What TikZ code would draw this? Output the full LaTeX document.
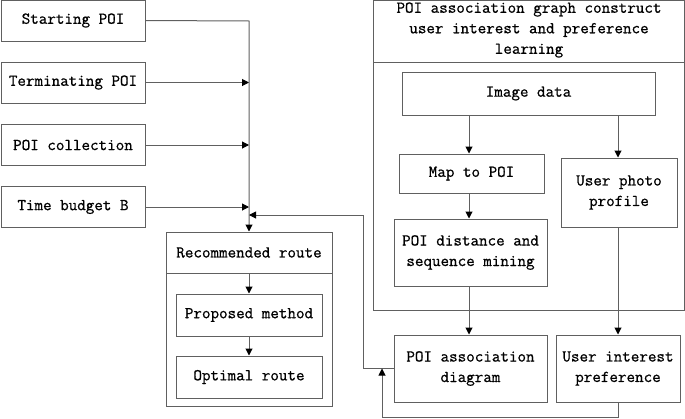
\documentclass[tikz,border=0pt]{standalone}
\usepackage{fontspec}
\newfontfamily\refmono{Latin Modern Mono}[FakeBold=0.8]
\usetikzlibrary{arrows.meta}
\begin{document}
\begin{tikzpicture}[x=1pt,y=-1pt,
  every node/.style={font=\refmono\fontsize{16.6}{20.5}\selectfont},
  box/.style={draw=linegray, line width=1pt, inner sep=0pt, align=center},
  conn/.style={draw=linegray, line width=1pt},
  arr/.style={conn, -{Triangle[length=7pt,width=7pt,fill=black,color=black]}}]
\definecolor{linegray}{HTML}{606060}
\useasboundingbox (0,0) rectangle (685,418);
% left inputs
\node[box, minimum width=144, minimum height=41] (start) at (73,20.5) {Starting POI};
\node[box, minimum width=144, minimum height=41] (term) at (73,82.5) {Terminating POI};
\node[box, minimum width=144, minimum height=41] (coll) at (73,145) {POI collection};
\node[box, minimum width=144, minimum height=41] (time) at (73,207) {Time budget B};
% recommended route
\node[box, minimum width=166, minimum height=174] (rec) at (249,319) {};
\coordinate (recdivL) at (166,273);
\coordinate (recdivR) at (332,273);
\draw[conn] (recdivL) -- (recdivR);
\node (rechead) at (249,252.5) {Recommended route};
\coordinate (recdiv) at (249,273);
\node[box, minimum width=146, minimum height=42] (prop) at (249,315) {Proposed method};
\node[box, minimum width=146, minimum height=42] (opt) at (249,377) {Optimal route};
% right group
\node[box, minimum width=311, minimum height=310] (grp) at (529,155) {};
\coordinate (grpdivL) at (373.5,62);
\coordinate (grpdivR) at (684.5,62);
\draw[conn] (grpdivL) -- (grpdivR);
\node[align=center] (grphead) at (529,30) {POI association graph construct\\user interest and preference\\learning};
\node[box, minimum width=253, minimum height=43] (img) at (528.5,93.5) {Image data};
\node[box, minimum width=145, minimum height=39] (map) at (471.5,173.5) {Map to POI};
\node[box, minimum width=116, minimum height=69] (uph) at (619,192.5) {User photo\\profile};
\node[box, minimum width=153, minimum height=67] (dist) at (470.5,252.5) {POI distance and\\sequence mining};
\node[box, minimum width=153, minimum height=67] (assoc) at (470.5,368.5) {POI association\\diagram};
\node[box, minimum width=124, minimum height=67] (uip) at (618,368.5) {User interest\\preference};
% connectors
\coordinate (trunk) at (249,21);
\draw[arr] (start.east) -- (trunk) -- (rec.north);
\draw[arr] (term.east) -- (term.east -| rec.north);
\draw[arr] (coll.east) -- (coll.east -| rec.north);
\draw[arr] (time.east) -- (time.east -| rec.north);
\draw[arr] (recdiv) -- (prop.north);
\draw[arr] (prop) -- (opt);
\draw[arr] (img.south -| 469,0) -- (map.north -| 469,0);
\draw[arr] (img.south -| 618,0) -- (uph.north -| 618,0);
\draw[arr] (map.south -| 469,0) -- (dist.north -| 469,0);
\draw[arr] (dist.south -| 469,0) -- (assoc.north -| 469,0);
\draw[arr] (uph.south -| 618,0) -- (uip.north -| 618,0);
\coordinate (fb1) at (363,368.5);
\coordinate (fb2) at (363,215);
\coordinate (fbend) at (249,215);
\draw[arr] (assoc.west) -- (fb1) -- (fb2) -- (fbend);
\coordinate (lb1) at (618,417);
\coordinate (lb2) at (382,417);
\coordinate (lbend) at (382,368.5);
\draw[arr] (uip.south) -- (lb1) -- (lb2) -- (lbend);
\end{tikzpicture}
\end{document}
